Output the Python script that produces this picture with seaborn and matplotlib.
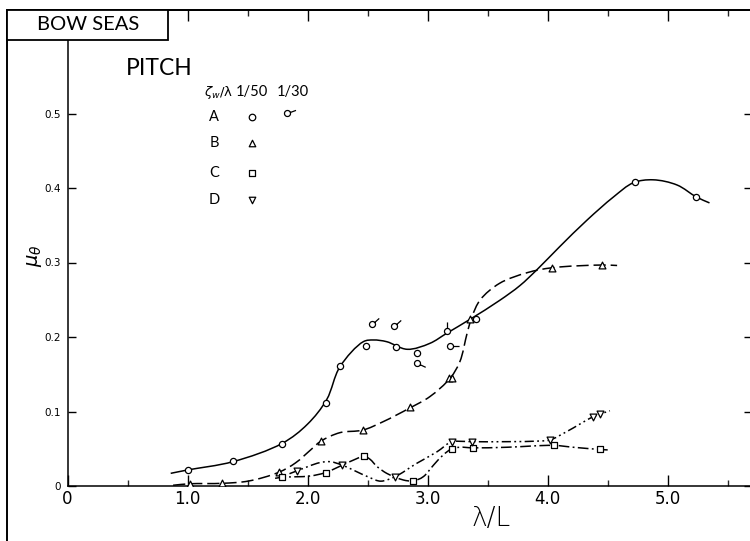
import numpy as np
import matplotlib
matplotlib.use("Agg")
import matplotlib.pyplot as plt
from matplotlib.path import Path
from matplotlib.patches import PathPatch, Rectangle
from matplotlib.lines import Line2D
from matplotlib.markers import MarkerStyle
from matplotlib.transforms import Affine2D
import seaborn as sns

# ---- measured points (lambda/L, mu_theta) ----
# A, zeta_w/lambda = 1/50 (circles)
a_x = [1.00, 1.38, 1.79, 2.15, 2.27, 2.485, 2.735, 2.91, 3.40, 4.73, 5.24]
a_y = [0.0215, 0.033, 0.057, 0.111, 0.161, 0.188, 0.186, 0.178, 0.2237, 0.408, 0.388]
# A, zeta_w/lambda = 1/30 (circles with tail) and tail directions (deg)
a30_x = [2.54, 2.72, 2.91, 3.19, 3.165]
a30_y = [0.217, 0.2145, 0.165, 0.188, 0.2085]
a30_tail = [42, 42, -25, 0, 90]
# B (triangles)
b_x = [1.02, 1.29, 1.76, 2.11, 2.46, 2.85, 3.175, 3.205, 3.355, 4.04, 4.45]
b_y = [0.003, 0.004, 0.0184, 0.061, 0.075, 0.1056, 0.145, 0.145, 0.2245, 0.293, 0.2966]
# C (squares)
c_x = [1.79, 2.15, 2.47, 2.88, 3.20, 3.38, 4.05, 4.44]
c_y = [0.0117, 0.018, 0.040, 0.0067, 0.0497, 0.0506, 0.055, 0.049]
# D (inverted triangles)
d_x = [1.915, 2.29, 2.73, 3.20, 3.37, 4.02, 4.38, 4.44]
d_y = [0.0205, 0.028, 0.0125, 0.0595, 0.0595, 0.0617, 0.093, 0.0966]

# ---- faired curves (knots) ----
fa_x = [0.86, 1.00, 1.38, 1.79, 2.00, 2.16, 2.27, 2.465, 2.55, 2.66,
        2.83, 3.02, 3.16, 3.354, 3.60, 3.77, 3.91, 4.10, 4.33, 4.55, 4.715, 4.88,
        5.08, 5.24, 5.35]
fa_y = [0.017, 0.0215, 0.0327, 0.0573, 0.083, 0.116, 0.16, 0.1937,
        0.196, 0.1937, 0.1835, 0.1915, 0.205, 0.2237, 0.249, 0.269, 0.29, 0.321,
        0.357, 0.388, 0.407, 0.411, 0.404, 0.388, 0.380]
fb_x = [0.88, 1.02, 1.29, 1.51, 1.76, 1.90, 2.03, 2.11, 2.27, 2.46, 2.63, 2.85,
        3.02, 3.19, 3.27, 3.33, 3.37, 3.44, 3.60, 3.83, 4.04, 4.45, 4.58]
fb_y = [0.001, 0.003, 0.0036, 0.0067, 0.0184, 0.031, 0.049, 0.060, 0.0716, 0.075,
        0.0863, 0.1045, 0.12, 0.145, 0.167, 0.205, 0.227, 0.25, 0.272, 0.2863,
        0.293, 0.2966, 0.296]
fc_x = [1.73, 1.79, 2.02, 2.15, 2.29, 2.40, 2.47, 2.52, 2.58, 2.66, 2.73, 2.80,
        2.88, 2.965, 3.05, 3.13, 3.20, 3.27, 3.38, 3.66, 4.05, 4.215, 4.44, 4.52]
fc_y = [0.0103, 0.0117, 0.0134, 0.018, 0.028, 0.036, 0.040, 0.036, 0.026, 0.017,
        0.012, 0.008, 0.0067, 0.0125, 0.028, 0.0416, 0.0497, 0.052, 0.0512, 0.052,
        0.0545, 0.052, 0.049, 0.0483]
fd_x = [1.85, 1.915, 2.10, 2.19, 2.29, 2.38, 2.52, 2.61, 2.73, 2.91, 3.08, 3.20,
        3.27, 3.37, 3.66, 3.94, 4.02, 4.16, 4.38, 4.44, 4.52]
fd_y = [0.0165, 0.0205, 0.0313, 0.0326, 0.028, 0.0215, 0.0112, 0.0065, 0.0125,
        0.0304, 0.046, 0.0595, 0.060, 0.0595, 0.0595, 0.0604, 0.0617, 0.073, 0.093,
        0.0966, 0.101]

x_ticks = [0, 1, 2, 3, 4, 5]
x_tick_labels = ["0", "1.0", "2.0", "3.0", "4.0", "5.0"]
y_ticks = [0, 0.1, 0.2, 0.3, 0.4, 0.5]
y_tick_labels = ["0", "0.1", "0.2", "0.3", "0.4", "0.5"]

sns.set_style("ticks")
plt.rcParams["font.family"] = ["Lato", "DejaVu Sans"]
plt.rcParams["mathtext.fontset"] = "dejavusans"
plt.rcParams["text.color"] = "black"

W, H = 750, 541
XS, YS = 120.0, 745.0  # pixels per data unit, used to shape the curves evenly
fig = plt.figure(figsize=(W / 100, H / 100), dpi=100)
ax = fig.add_axes([67.5 / W, (H - 486) / H, (W - 67.5) / W, 476 / H])
ax.set_xlim(0, 682.5 / XS)
ax.set_ylim(0, 476 / YS)


def smooth_path(xs, ys, alpha=0.5):
    """Centripetal Catmull-Rom curve through the knots, as cubic Bezier segments."""
    pts = np.column_stack([np.asarray(xs) * XS, np.asarray(ys) * YS])
    padded = np.vstack([2 * pts[0] - pts[1], pts, 2 * pts[-1] - pts[-2]])
    verts = [pts[0]]
    codes = [Path.MOVETO]
    for i in range(1, len(padded) - 2):
        p0, p1, p2, p3 = padded[i - 1], padded[i], padded[i + 1], padded[i + 2]
        d1 = max(np.linalg.norm(p1 - p0), 1e-6) ** alpha
        d2 = max(np.linalg.norm(p2 - p1), 1e-6) ** alpha
        d3 = max(np.linalg.norm(p3 - p2), 1e-6) ** alpha
        b1 = (d1 ** 2 * p2 - d2 ** 2 * p0 + (2 * d1 ** 2 + 3 * d1 * d2 + d2 ** 2) * p1) \
            / (3 * d1 * (d1 + d2))
        b2 = (d3 ** 2 * p1 - d2 ** 2 * p3 + (2 * d3 ** 2 + 3 * d3 * d2 + d2 ** 2) * p2) \
            / (3 * d3 * (d3 + d2))
        verts += [b1, b2, p2]
        codes += [Path.CURVE4] * 3
    verts = np.array(verts) / np.array([XS, YS])
    return Path(verts, codes)


curve_specs = [
    (fa_x, fa_y, "-"),
    (fb_x, fb_y, (0, (8, 3.2))),
    (fc_x, fc_y, (0, (7, 2.2, 1.2, 2.2))),
    (fd_x, fd_y, (0, (6, 2.2, 1.2, 2.2, 1.2, 2.2))),
]
for cx, cy, ls in curve_specs:
    ax.add_patch(PathPatch(smooth_path(cx, cy), facecolor="none", edgecolor="black",
                           linewidth=1.1, linestyle=ls, zorder=2, capstyle="butt"))


def tail_marker(angle):
    circ = Path.unit_circle()
    verts = np.vstack([circ.vertices, [[1.0, 0.0], [3.0, 0.0]]])
    codes = list(circ.codes) + [Path.MOVETO, Path.LINETO]
    return MarkerStyle(Path(verts, codes), transform=Affine2D().rotate_deg(angle))


mk = dict(color="black", facecolor="white", edgecolor="black", linewidth=0.9,
          zorder=3, legend=False, ax=ax)
sns.scatterplot(x=a_x, y=a_y, marker="o", s=20, **mk)
sns.scatterplot(x=b_x, y=b_y, marker="^", s=24, **mk)
sns.scatterplot(x=c_x, y=c_y, marker="s", s=17, **mk)
sns.scatterplot(x=d_x, y=d_y, marker="v", s=24, **mk)
for tx, ty, ang in zip(a30_x, a30_y, a30_tail):
    sns.scatterplot(x=[tx], y=[ty], marker=tail_marker(ang), s=170, **mk)

# axes frame and ticks
ax.spines["right"].set_visible(False)
for side in ("left", "bottom", "top"):
    ax.spines[side].set_linewidth(1.1)
    ax.spines[side].set_color("black")
ax.set_xticks(x_ticks)
ax.set_xticklabels(x_tick_labels, family=["Liberation Sans Narrow", "DejaVu Sans"])
ax.set_xticks(np.arange(0.5, 5.6, 1.0), minor=True)
ax.set_yticks(y_ticks)
ax.set_yticklabels(y_tick_labels, family=["DejaVu Sans"])
ax.tick_params(axis="x", which="major", direction="in", length=8, width=1,
               top=True, bottom=True, labelsize=12, pad=3, colors="black")
ax.tick_params(axis="x", which="minor", direction="in", length=4.5, width=1,
               top=True, bottom=True)
ax.tick_params(axis="y", which="major", direction="in", length=6, width=1,
               left=True, right=True, labelsize=7.5, pad=5, colors="black")
for t in ax.yaxis.get_major_ticks():
    t.tick2line.set_markersize(4.5)
ax.set_xlabel("")
ax.set_ylabel("")

ax.text(0.6205, -0.068, "λ/L", transform=ax.transAxes, fontsize=19,
        ha="center", va="center", family=["DejaVu Sans"], fontweight="light")
ax.text(-0.0485, 0.483, r"$\mu_\theta$", transform=ax.transAxes, fontsize=14,
        rotation=90, ha="center", va="center")

# title block and key
ax.text(0.0857, 0.878, "PITCH", transform=ax.transAxes, fontsize=16.5,
        ha="left", va="center")
ax.text(0.2, 0.8277, r"$\zeta_w$/λ", transform=ax.transAxes, fontsize=9.5,
        ha="left", va="center", family=["DejaVu Sans"])
ax.text(0.2700, 0.8277, "1/50", transform=ax.transAxes, fontsize=10.5,
        ha="center", va="center")
ax.text(0.330, 0.8277, "1/30", transform=ax.transAxes, fontsize=10.5,
        ha="center", va="center")
key_rows = [("A", "o", 0.775), ("B", "^", 0.7206), ("C", "s", 0.6576), ("D", "v", 0.6008)]
for lab, m, yy in key_rows:
    ax.text(0.2147, yy, lab, transform=ax.transAxes, fontsize=10.5,
            ha="center", va="center")
    ax.scatter([0.2703], [yy], marker=m, s=22, facecolor="white", edgecolor="black",
               linewidth=0.9, transform=ax.transAxes, zorder=3)
ax.scatter([0.3216], [0.7836], marker=tail_marker(20), s=170, facecolor="white",
           edgecolor="black", linewidth=0.9, transform=ax.transAxes, zorder=3)


# outer border and the heading box
def fx(px):
    return px / W


def fy(py):
    return 1 - py / H


fig.add_artist(Line2D([fx(7), fx(7)], [fy(10), fy(H + 2)], color="black",
                      linewidth=1.4, transform=fig.transFigure, zorder=4))
fig.add_artist(Line2D([fx(7), fx(W)], [fy(10), fy(10)], color="black",
                      linewidth=1.4, transform=fig.transFigure, zorder=4))
fig.add_artist(Rectangle((fx(7), fy(40)), fx(168) - fx(7), fy(10) - fy(40),
                         facecolor="white", edgecolor="black", linewidth=1.3,
                         transform=fig.transFigure, zorder=5))
fig.text(fx(88), fy(25), "BOW SEAS", fontsize=14.5, ha="center", va="center",
         color="black", zorder=6)

fig.savefig("out.png", dpi=100)
